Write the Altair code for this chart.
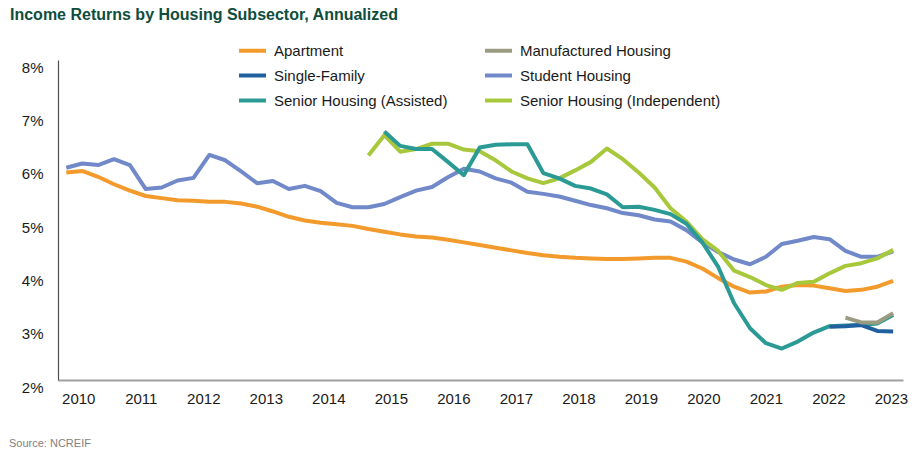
import altair as alt
import pandas as pd

title_text = "Income Returns by Housing Subsector, Annualized"
source_text = "Source: NCREIF"

# Quarterly observations, 2010 Q1 .. 2023 Q1
quarters = [f"{y}Q{q}" for y in range(2010, 2024) for q in range(1, 5)][:53]
year_labels = [str(y) for y in range(2010, 2024)]

apartment = [5.89, 5.92, 5.81, 5.67, 5.55, 5.45, 5.41, 5.37, 5.36, 5.34,
             5.34, 5.31, 5.25, 5.16, 5.06, 4.99, 4.95, 4.92, 4.89, 4.83,
             4.78, 4.73, 4.69, 4.67, 4.63, 4.58, 4.53, 4.48, 4.43, 4.38,
             4.34, 4.31, 4.29, 4.28, 4.27, 4.27, 4.28, 4.29, 4.29, 4.22,
             4.09, 3.91, 3.75, 3.64, 3.66, 3.75, 3.78, 3.77, 3.72, 3.67,
             3.69, 3.75, 3.86]
student_housing = [5.98, 6.06, 6.03, 6.14, 6.03, 5.58, 5.61, 5.74, 5.79, 6.22,
                   6.12, 5.91, 5.69, 5.73, 5.58, 5.64, 5.54, 5.32, 5.24, 5.24,
                   5.30, 5.43, 5.55, 5.62, 5.80, 5.96, 5.91, 5.78, 5.70, 5.53,
                   5.49, 5.44, 5.36, 5.28, 5.22, 5.13, 5.09, 5.01, 4.97, 4.81,
                   4.58, 4.40, 4.26, 4.17, 4.31, 4.55, 4.61, 4.68, 4.64, 4.42,
                   4.31, 4.31, 4.41]
# starts 2015 Q1
senior_assisted = [6.66, 6.39, 6.33, 6.33, 6.09, 5.84, 6.36, 6.41, 6.42, 6.42,
                   5.88, 5.78, 5.64, 5.59, 5.48, 5.24, 5.25, 5.19, 5.11, 4.93,
                   4.58, 4.12, 3.44, 2.97, 2.69, 2.59, 2.72, 2.89, 3.01, 3.02,
                   3.03, 3.06, 3.22]
# starts 2014 Q4
senior_independent = [6.21, 6.59, 6.28, 6.33, 6.43, 6.43, 6.32, 6.29, 6.12, 5.91,
                      5.78, 5.69, 5.78, 5.93, 6.09, 6.34, 6.14, 5.89, 5.61, 5.22,
                      4.97, 4.64, 4.42, 4.05, 3.93, 3.78, 3.69, 3.82, 3.84, 4.00,
                      4.14, 4.19, 4.28, 4.44]
# starts 2022 Q1
single_family = [3.00, 3.01, 3.03, 2.92, 2.91]
# starts 2022 Q2
manufactured = [3.17, 3.08, 3.08, 3.25]

# legend fills column by column
legend_order = ["Apartment", "Single-Family", "Senior Housing (Assisted)",
                "Manufactured Housing", "Student Housing",
                "Senior Housing (Independent)"]
legend_colors = ["#F39A2C", "#21609F", "#2B9A95", "#9A9B80", "#7189C9", "#A8C83C"]

# drawing order (bottom to top): name, values, first quarter
series = [
    ("Apartment", apartment, "2010Q1"),
    ("Student Housing", student_housing, "2010Q1"),
    ("Senior Housing (Independent)", senior_independent, "2014Q4"),
    ("Senior Housing (Assisted)", senior_assisted, "2015Q1"),
    ("Single-Family", single_family, "2022Q1"),
    ("Manufactured Housing", manufactured, "2022Q2"),
]

FONT = "Liberation Sans"

color_scale = alt.Scale(domain=legend_order, range=legend_colors)
x_scale = alt.Scale(domain=[-0.52, 52.62], nice=False, zero=False)
y_scale = alt.Scale(domain=[2, 8], nice=False, zero=False)

tick_pos = [round(0.755 + 3.931 * k, 3) for k in range(len(year_labels))]

layers = []
for idx, (name, vals, start) in enumerate(series):
    s = quarters.index(start)
    df = pd.DataFrame({
        "quarter": quarters[s:s + len(vals)],
        "t": list(range(s, s + len(vals))),
        "v": vals,
        "series": [name] * len(vals),
    })
    enc = dict(
        x=alt.X("t:Q", scale=x_scale, title=None,
                axis=alt.Axis(values=tick_pos,
                              labelExpr="'' + (2010 + round((datum.value - 0.755) / 3.931))",
                              domainColor="#A0A0A0", domainWidth=2, ticks=False, tickSize=0,
                              labelPadding=11, labelFontSize=15, labelFont=FONT,
                              labelColor="#1a1a1a", grid=False)),
        y=alt.Y("v:Q", scale=y_scale, title=None,
                axis=alt.Axis(values=[2, 3, 4, 5, 6, 7, 8],
                              labelExpr="datum.value + '%'",
                              domainColor="#505050", domainWidth=1.2, ticks=False, tickSize=0,
                              labelPadding=15, labelOffset=7, labelFontSize=15,
                              labelFont=FONT, labelColor="#1a1a1a", grid=False)),
    )
    if idx == 0:
        enc["color"] = alt.Color(
            "series:N", scale=color_scale,
            legend=alt.Legend(orient="none", legendX=179, legendY=-25, columns=2,
                              columnPadding=29, rowPadding=1, padding=0,
                              symbolType="stroke", symbolStrokeWidth=4, symbolSize=729,
                              labelFontSize=15, labelFont=FONT, labelColor="#1a1a1a",
                              labelOffset=6, title=None, labelLimit=300))
    else:
        enc["color"] = alt.Color("series:N", scale=color_scale)
    layers.append(
        alt.Chart(df).mark_line(strokeWidth=4, strokeJoin="round").encode(**enc)
    )

title_layer = alt.Chart(pd.DataFrame({"t": [title_text]})).mark_text(
    align="left", baseline="alphabetic", fontSize=16, fontWeight="bold",
    color="#0E4D3C", font=FONT
).encode(x=alt.value(-48), y=alt.value(-40), text="t:N")

source_layer = alt.Chart(pd.DataFrame({"t": [source_text]})).mark_text(
    align="left", baseline="alphabetic", fontSize=11, color="#7F7F7F", font=FONT
).encode(x=alt.value(-49), y=alt.value(387), text="t:N")

chart = alt.layer(*layers, title_layer, source_layer).properties(
    width=845, height=320,
    padding={"left": 58, "top": 60, "right": 11, "bottom": 76},
    autosize=alt.AutoSizeParams(type="none"),
    background="white",
).configure_view(stroke=None)

chart.save("out.html", embed_options={"renderer": "svg", "actions": False})
